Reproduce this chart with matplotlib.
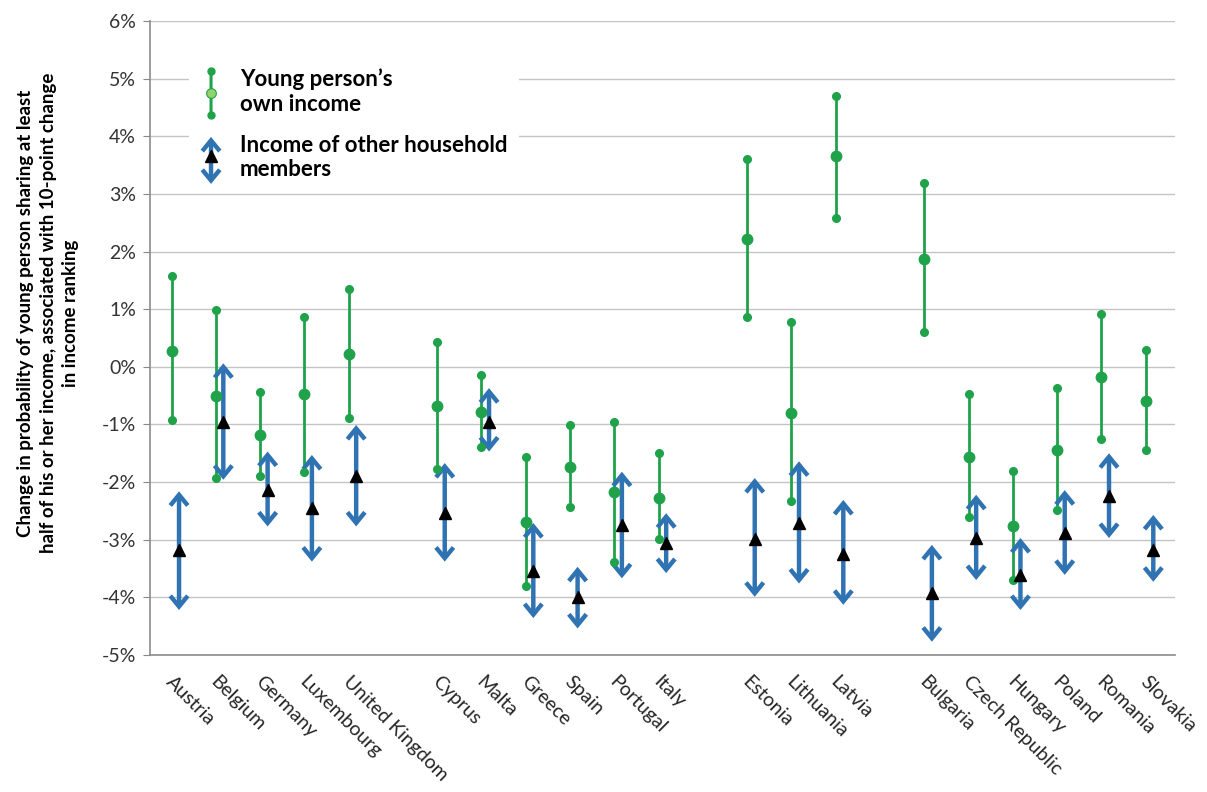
import numpy as np
import matplotlib.pyplot as plt
from matplotlib.lines import Line2D
from matplotlib.patches import FancyArrowPatch
from matplotlib.legend_handler import HandlerBase

plt.rcParams['font.family'] = ['Lato', 'DejaVu Sans']

groups = [
    ["Austria", "Belgium", "Germany", "Luxembourg", "United Kingdom"],
    ["Cyprus", "Malta", "Greece", "Spain", "Portugal", "Italy"],
    ["Estonia", "Lithuania", "Latvia"],
    ["Bulgaria", "Czech Republic", "Hungary", "Poland", "Romania", "Slovakia"],
]

# young person's own income: estimate with lower / upper bounds (%)
own_mid = [0.28, -0.50, -1.18, -0.47, 0.22,
           -0.68, -0.78, -2.70, -1.74, -2.18, -2.28,
           2.22, -0.80, 3.65,
           1.87, -1.56, -2.77, -1.44, -0.18, -0.60]
own_lo = [-0.93, -1.93, -1.90, -1.82, -0.89,
          -1.77, -1.39, -3.81, -2.44, -3.38, -2.99,
          0.87, -2.32, 2.58,
          0.61, -2.60, -3.70, -2.48, -1.26, -1.44]
own_hi = [1.57, 0.99, -0.43, 0.87, 1.35,
          0.43, -0.14, -1.57, -1.01, -0.95, -1.50,
          3.61, 0.77, 4.70,
          3.19, -0.47, -1.81, -0.37, 0.91, 0.30]

# income of other household members
oth_mid = [-3.18, -0.95, -2.14, -2.45, -1.89,
           -2.54, -0.95, -3.54, -3.99, -2.74, -3.06,
           -2.98, -2.71, -3.24,
           -3.93, -2.97, -3.61, -2.89, -2.25, -3.18]
oth_lo = [-4.22, -1.96, -2.77, -3.38, -2.77,
          -3.38, -1.47, -4.36, -4.54, -3.67, -3.58,
          -3.99, -3.76, -4.13,
          -4.77, -3.70, -4.22, -3.61, -2.97, -3.73]
oth_hi = [-2.16, 0.06, -1.47, -1.53, -1.01,
          -1.67, -0.37, -2.71, -3.47, -1.82, -2.54,
          -1.93, -1.64, -2.31,
          -3.09, -2.22, -2.97, -2.14, -1.50, -2.57]

GREEN = '#1fa24a'
LIGHT_GREEN = '#8fd36a'
BLUE = '#2f73b3'

# one empty slot between country groups
countries, xpos = [], []
slot = 0
for g in groups:
    for c in g:
        countries.append(c)
        xpos.append(slot)
        slot += 1
    slot += 1
xpos = np.array(xpos, dtype=float)
dx = 0.085


def double_arrow(x, lo, hi, trans=None, lw=3.2, ms=14, style='<->,head_length=0.55,head_width=0.45',
                 color=BLUE):
    kw = {} if trans is None else {'transform': trans}
    return FancyArrowPatch((x, lo), (x, hi), arrowstyle=style,
                           mutation_scale=ms, color=color, lw=lw, shrinkA=0, shrinkB=0,
                           joinstyle='miter', capstyle='butt', zorder=3, **kw)


class RangeHandler(HandlerBase):
    def create_artists(self, legend, orig_handle, xdescent, ydescent, width, height, fontsize, trans):
        cx = width / 2 - xdescent
        y0, y1 = -ydescent - 2, height - ydescent + 2
        stem = double_arrow(cx, y0, y1, trans=trans, lw=2.2, style='-', color=GREEN)
        ends = Line2D([cx, cx], [y0, y1], ls='none', marker='o', ms=5,
                      mec=GREEN, mfc=GREEN, transform=trans)
        mid = Line2D([cx], [(y0 + y1) / 2], ls='none', marker='o', ms=7,
                     mfc=LIGHT_GREEN, mec=GREEN, mew=0.8, transform=trans)
        return [stem, ends, mid]


class ArrowHandler(HandlerBase):
    def create_artists(self, legend, orig_handle, xdescent, ydescent, width, height, fontsize, trans):
        cx = width / 2 - xdescent
        y0, y1 = -ydescent - 4, height - ydescent + 2
        arr = double_arrow(cx, y0, y1, trans=trans)
        tri = Line2D([cx], [(y0 + y1) / 2 + 3], ls='none', marker='^', ms=8,
                     color='black', transform=trans)
        return [arr, tri]


fig = plt.figure(figsize=(12.07, 7.92), dpi=100)
ax = fig.add_axes([0.1243, 0.173, 0.849, 0.8005])

ax.set_axisbelow(True)
ax.yaxis.grid(True, color='#c4c4c4', lw=1)

# own income ranges
ax.vlines(xpos - dx, own_lo, own_hi, color=GREEN, lw=2, zorder=3)
ax.plot(np.r_[xpos, xpos] - dx, np.r_[own_lo, own_hi], 'o', color=GREEN, ms=5.5, zorder=4)
ax.plot(xpos - dx, own_mid, 'o', color=GREEN, ms=7.5, zorder=4)

# other household members
for x, lo, hi in zip(xpos + dx, oth_lo, oth_hi):
    ax.add_patch(double_arrow(x, lo, hi))
ax.plot(xpos + dx, oth_mid, '^', color='black', ms=8.5, zorder=5)

ax.set_xlim(-0.57, slot - 1 - 0.43)
ax.set_ylim(-5, 6)
yt = np.arange(-5, 7)
ax.set_yticks(yt)
ax.set_yticklabels([f"{v}%" for v in yt], fontsize=14, color='#333333')
ax.set_xticks(xpos)
ax.set_xticklabels(countries, rotation=-45, ha='left', va='top',
                   rotation_mode='anchor', fontsize=14, color='#262626')
ax.tick_params(axis='x', length=0, pad=13)
ax.tick_params(axis='y', length=5, color='#888888', direction='out', pad=5)

for s in ['top', 'right']:
    ax.spines[s].set_visible(False)
for s in ['left', 'bottom']:
    ax.spines[s].set_color('#8c8c8c')
    ax.spines[s].set_linewidth(1.2)

fig.text(0.040, 0.605,
         "Change in probability of young person sharing at least\n"
         "half of his or her income, associated with 10-point change\n"
         "in income ranking",
         rotation=90, ha='center', va='center', multialignment='center',
         fontsize=13.5, fontweight='bold', linespacing=1.4)

h_own = Line2D([], [])
h_oth = Line2D([], [])
leg = ax.legend([h_own, h_oth], ["Young person\u2019s\nown income", "Income of other household\nmembers"],
                handler_map={h_own: RangeHandler(), h_oth: ArrowHandler()},
                loc='upper left', bbox_to_anchor=(0.027, 0.96),
                handlelength=1.0, handleheight=2.3, handletextpad=0.8,
                labelspacing=0.9, borderpad=0.5,
                frameon=True, fancybox=False, framealpha=1,
                prop={'size': 16, 'weight': 'bold'})
leg.get_frame().set_facecolor('white')
leg.get_frame().set_edgecolor('none')

fig.savefig('out.png', dpi=100, facecolor='white')
